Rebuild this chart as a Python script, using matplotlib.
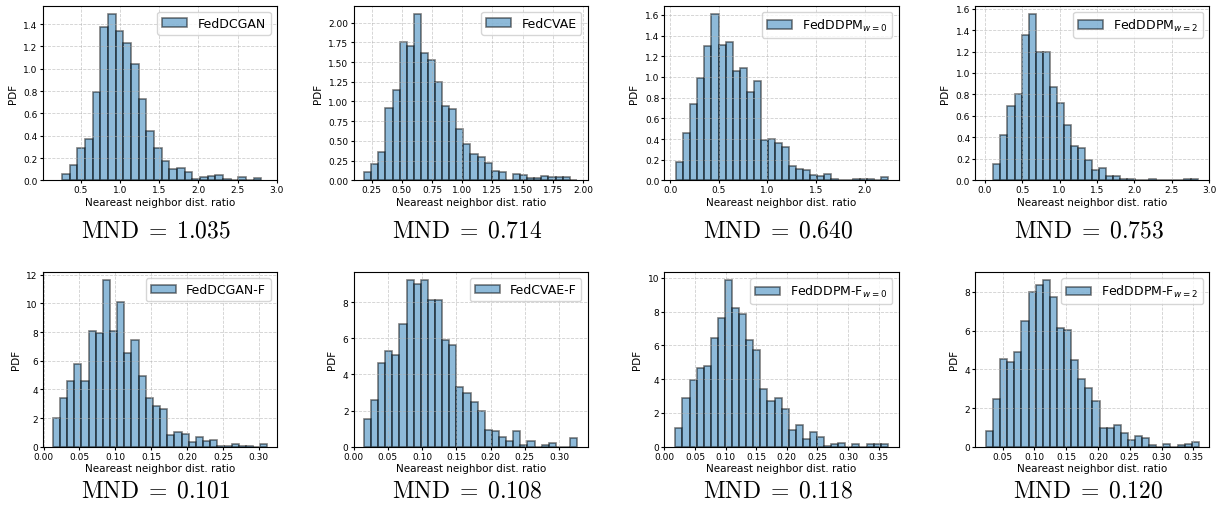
import numpy as np
import matplotlib
matplotlib.use('Agg')
import matplotlib.pyplot as plt
from matplotlib.ticker import MultipleLocator

# --- data (density histograms) ---
labels = ['FedDCGAN', 'FedCVAE', r'FedDDPM$_{w=0}$', r'FedDDPM$_{w=2}$',
          'FedDCGAN-F', 'FedCVAE-F', r'FedDDPM-F$_{w=0}$', r'FedDDPM-F$_{w=2}$']
mnd = [1.035, 0.714, 0.640, 0.753, 0.101, 0.108, 0.118, 0.120]

# first / last bin edge of each histogram
bin_lo = [0.262, 0.187, 0.061, 0.116, 0.013, 0.0149, 0.0179, 0.0238]
bin_hi = [2.80, 1.95, 2.24, 2.85, 0.3116, 0.3268, 0.365, 0.3586]

h_dcgan = [0.06, 0.14, 0.29, 0.37, 0.79, 1.37, 1.49, 1.34, 1.23, 1.04, 0.73, 0.44, 0.29,
           0.17, 0.10, 0.11, 0.075, 0.012, 0.03, 0.04, 0.05, 0.01, 0.0, 0.03, 0.0, 0.02]
h_cvae = [0.10, 0.21, 0.36, 0.92, 1.15, 1.75, 1.70, 2.11, 1.61, 1.53, 1.25, 0.94, 0.91, 0.65,
          0.46, 0.34, 0.29, 0.22, 0.12, 0.11, 0.01, 0.08, 0.07, 0.03, 0.03, 0.05, 0.04, 0.04,
          0.04, 0.01]
h_ddpm0 = [0.18, 0.46, 0.74, 0.99, 1.30, 1.61, 1.31, 1.34, 1.06, 1.09, 0.85, 0.96, 0.39, 0.40,
           0.36, 0.32, 0.14, 0.11, 0.10, 0.05, 0.04, 0.06, 0.01, 0.0, 0.0, 0.01, 0.01, 0.01,
           0.0, 0.03]
h_ddpm2 = [0.15, 0.42, 0.69, 0.80, 1.35, 1.55, 1.20, 1.20, 0.87, 0.72, 0.52, 0.32, 0.30, 0.19,
           0.10, 0.115, 0.04, 0.04, 0.01, 0.01, 0.0, 0.0, 0.01, 0.0, 0.0, 0.0, 0.0, 0.01, 0.01]
h_dcgan_f = [2.0, 3.4, 4.6, 5.8, 4.6, 8.05, 7.95, 11.6, 8.05, 10.1, 6.55, 7.45, 4.95, 3.4,
             2.85, 2.6, 0.85, 1.0, 0.9, 0.3, 0.65, 0.4, 0.5, 0.07, 0.07, 0.2, 0.07, 0.07,
             0.0, 0.2]
h_cvae_f = [1.55, 2.6, 4.65, 5.3, 5.1, 6.8, 9.2, 9.0, 9.2, 8.1, 8.1, 5.9, 5.6, 3.3, 3.0, 2.5,
            2.0, 0.95, 0.85, 0.55, 0.3, 0.85, 0.1, 0.3, 0.0, 0.1, 0.2, 0.0, 0.0, 0.5]
h_ddpm0_f = [1.1, 2.9, 3.95, 4.65, 4.8, 6.45, 7.6, 9.85, 8.2, 7.85, 6.3, 5.75, 3.45, 2.7, 2.9,
             2.25, 1.0, 1.3, 0.45, 0.85, 0.6, 0.05, 0.15, 0.25, 0.0, 0.15, 0.0, 0.15, 0.15,
             0.15]
h_ddpm2_f = [0.8, 2.45, 4.55, 4.4, 4.9, 6.5, 8.0, 8.35, 8.6, 7.75, 6.15, 6.05, 4.5, 3.5, 3.05,
             2.35, 0.95, 0.95, 1.15, 0.7, 0.35, 0.55, 0.45, 0.1, 0.0, 0.15, 0.0, 0.07, 0.15,
             0.25]
heights = [h_dcgan, h_cvae, h_ddpm0, h_ddpm2, h_dcgan_f, h_cvae_f, h_ddpm0_f, h_ddpm2_f]

# axis limits / tick steps seen in the picture
xlims = [(0.02, 3.0), (0.10, 2.04), (-0.06, 2.35), (-0.125, 3.0),
         (-0.001, 0.325), (0.0, 0.342), (0.0, 0.3825), (0.007, 0.375)]
xsteps = [0.5, 0.25, 0.5, 0.5, 0.05, 0.05, 0.05, 0.05]
ysteps = [0.2, 0.25, 0.2, 0.2, 2, 2, 2, 2]
yfmt = ['{x:.1f}', '{x:.2f}', '{x:.1f}', '{x:.1f}', '{x:.0f}', '{x:.0f}', '{x:.0f}', '{x:.0f}']

fig, axes = plt.subplots(2, 4, figsize=(12.24, 5.1), dpi=100)
fig.subplots_adjust(left=0.035, right=0.988, top=0.987, bottom=0.122,
                    wspace=0.328, hspace=0.525)

for i, ax in enumerate(axes.flat):
    edges = np.linspace(bin_lo[i], bin_hi[i], len(heights[i]) + 1)
    ax.bar(edges[:-1], heights[i], width=np.diff(edges), align='edge',
           color='tab:blue', alpha=0.5, edgecolor='black', linewidth=1.2,
           label=labels[i])
    ax.set_xlim(*xlims[i])
    ax.xaxis.set_major_locator(MultipleLocator(xsteps[i]))
    ax.yaxis.set_major_locator(MultipleLocator(ysteps[i]))
    ax.yaxis.set_major_formatter(yfmt[i])
    ax.grid(True, linestyle='--', linewidth=0.6, alpha=0.6)
    ax.tick_params(labelsize=6.5, length=2, pad=1.7)
    ax.set_xlabel('Neareast neighbor dist. ratio', fontsize=7.5, labelpad=1.5)
    ax.set_ylabel('PDF', fontsize=7.5)
    ax.legend(loc='upper right', fontsize=9)

    pos = ax.get_position()
    ytxt = 0.549 if i < 4 else 0.039
    fig.text((pos.x0 + pos.x1) / 2 - 0.003, ytxt, r'$\mathrm{MND}\;=\;%.3f$' % mnd[i],
             ha='center', va='center', fontsize=17, math_fontfamily='cm')

fig.savefig('out.png', dpi=100)
